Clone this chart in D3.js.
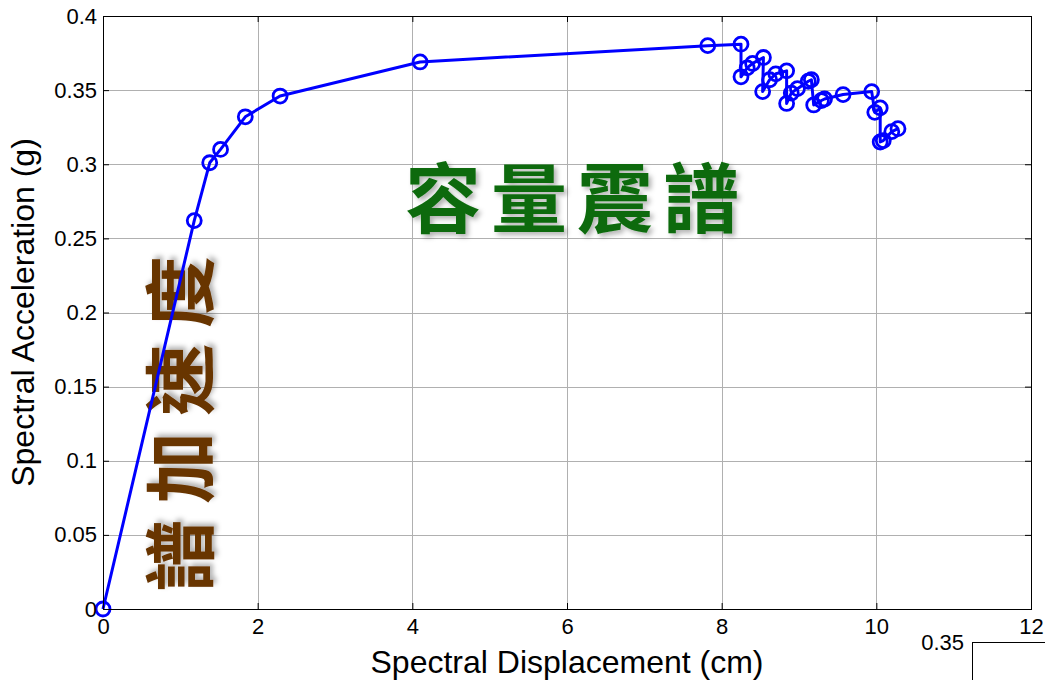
<!DOCTYPE html>
<html>
<head>
<meta charset="utf-8">
<script src="https://cdn.jsdelivr.net/npm/d3@7"></script>
<style>
  body { margin: 0; background: #fff; }
  svg { display: block; }
</style>
</head>
<body>
<svg id="chart" width="1045" height="680"></svg>
<script>
// capacity spectrum points (Sd in cm, Sa in g)
const sdValues = [0, 1.18, 1.38, 1.52, 1.84, 2.29, 4.10, 7.82, 8.25,
  8.25, 8.33, 8.40, 8.54, 8.53, 8.62, 8.70, 8.84, 8.84, 8.90, 8.98, 9.12, 9.16,
  9.19, 9.29, 9.33, 9.57, 9.94, 9.98, 10.05, 10.05, 10.09, 10.20, 10.28];
const saValues = [0, 0.262, 0.301, 0.310, 0.332, 0.346, 0.369, 0.380, 0.381,
  0.359, 0.365, 0.368, 0.372, 0.349, 0.357, 0.361, 0.363, 0.341, 0.348, 0.351, 0.356, 0.357,
  0.340, 0.343, 0.344, 0.347, 0.349, 0.335, 0.338, 0.315, 0.316, 0.322, 0.324];

const xTicks = [0, 2, 4, 6, 8, 10, 12];
const yTicks = [0, 0.05, 0.1, 0.15, 0.2, 0.25, 0.3, 0.35, 0.4];
const yTickLabels = ["0", "0.05", "0.1", "0.15", "0.2", "0.25", "0.3", "0.35", "0.4"];
const insetTicks = [0.35];

const xLabel = "Spectral Displacement (cm)";
const yLabel = "Spectral Acceleration (g)";
const titleText = "容量震譜";
const sideText = "譜加速度";

const points = sdValues.map((d, i) => ({ sd: d, sa: saValues[i] }));

const margin = { left: 103, right: 14, top: 16, bottom: 71 };
const width = 1045, height = 680;
const plotW = width - margin.left - margin.right;
const plotH = height - margin.top - margin.bottom;

const svg = d3.select("#chart");
svg.append("rect").attr("width", width).attr("height", height).attr("fill", "#fff");

const defs = svg.append("defs");
const shadow = defs.append("filter").attr("id", "shadow")
  .attr("x", "-20%").attr("y", "-20%").attr("width", "140%").attr("height", "140%");
shadow.append("feDropShadow")
  .attr("dx", 3).attr("dy", 3).attr("stdDeviation", 2.5)
  .attr("flood-color", "#000").attr("flood-opacity", 0.3);

const g = svg.append("g").attr("transform", `translate(${margin.left},${margin.top})`);

const x = d3.scaleLinear().domain([0, 12]).range([0, plotW]);
const y = d3.scaleLinear().domain([0, 0.4]).range([plotH, 0]);

// grid
g.append("g").selectAll("line").data(xTicks.slice(1, -1)).join("line")
  .attr("x1", d => Math.round(x(d)) + 0.5).attr("x2", d => Math.round(x(d)) + 0.5)
  .attr("y1", 0).attr("y2", plotH)
  .attr("stroke", "#b0b0b0").attr("stroke-width", 1);
g.append("g").selectAll("line").data(yTicks.slice(1, -1)).join("line")
  .attr("y1", d => Math.round(y(d)) + 0.5).attr("y2", d => Math.round(y(d)) + 0.5)
  .attr("x1", 0).attr("x2", plotW)
  .attr("stroke", "#b0b0b0").attr("stroke-width", 1);

// annotation texts
g.append("text")
  .attr("x", 474).attr("y", 178)
  .attr("text-anchor", "middle").attr("dominant-baseline", "central")
  .attr("font-family", "'Noto Sans CJK TC', 'Noto Sans CJK SC', sans-serif")
  .attr("font-weight", 700).attr("font-size", 76)
  .attr("letter-spacing", 10)
  .attr("fill", "#0b6a0b").attr("filter", "url(#shadow)")
  .text(titleText);

g.append("text")
  .attr("transform", `translate(72,400) rotate(-90)`)
  .attr("text-anchor", "middle").attr("dominant-baseline", "central")
  .attr("font-family", "'Noto Sans CJK TC', 'Noto Sans CJK SC', sans-serif")
  .attr("font-weight", 700).attr("font-size", 72)
  .attr("letter-spacing", 16)
  .attr("fill", "#673402").attr("filter", "url(#shadow)")
  .text(sideText);

// curve
const line = d3.line().x(d => x(d.sd)).y(d => y(d.sa));
g.append("path").datum(points)
  .attr("d", line).attr("fill", "none")
  .attr("stroke", "#0000ff").attr("stroke-width", 3).attr("stroke-linejoin", "round");
g.append("g").selectAll("circle").data(points).join("circle")
  .attr("cx", d => x(d.sd)).attr("cy", d => y(d.sa)).attr("r", 7)
  .attr("fill", "none").attr("stroke", "#0000ff").attr("stroke-width", 2.8);

// axes (MATLAB style inward ticks)
const tickFont = "'Liberation Sans', Arial, sans-serif";
const xAxis = g.append("g").attr("transform", `translate(0,${plotH})`)
  .call(d3.axisBottom(x).tickValues(xTicks).tickSize(-6).tickPadding(9).tickSizeOuter(0));
const yAxis = g.append("g")
  .call(d3.axisLeft(y).tickValues(yTicks).tickFormat((d, i) => yTickLabels[i])
    .tickSize(-6).tickPadding(6).tickSizeOuter(0));
g.append("g")
  .call(d3.axisTop(x).tickValues(xTicks).tickSize(-6).tickFormat("").tickSizeOuter(0));
g.append("g").attr("transform", `translate(${plotW},0)`)
  .call(d3.axisRight(y).tickValues(yTicks).tickSize(-6).tickFormat("").tickSizeOuter(0));

g.selectAll(".domain").remove();
g.selectAll(".tick line").attr("stroke", "#000");
[xAxis, yAxis].forEach(a => a.selectAll("text")
  .attr("font-family", tickFont).attr("font-size", 22).attr("fill", "#000"));

g.append("rect").attr("x", 0.5).attr("y", 0.5).attr("width", plotW).attr("height", plotH)
  .attr("fill", "none").attr("stroke", "#000").attr("stroke-width", 1);

// axis labels
svg.append("text")
  .attr("x", margin.left + plotW / 2).attr("y", 673)
  .attr("text-anchor", "middle")
  .attr("font-family", tickFont).attr("font-size", 32).attr("fill", "#000")
  .text(xLabel);
svg.append("text")
  .attr("transform", `translate(34,${margin.top + plotH / 2}) rotate(-90)`)
  .attr("text-anchor", "middle")
  .attr("font-family", tickFont).attr("font-size", 32).attr("fill", "#000")
  .text(yLabel);

// second axes cut off at the lower right corner
const inset = svg.append("g").attr("transform", "translate(972,642)");
const yIn = d3.scaleLinear().domain([0.3, 0.35]).range([300, 0]);
inset.call(d3.axisLeft(yIn).tickValues(insetTicks).tickFormat(d3.format(".2f"))
  .tickSize(-6).tickPadding(8).tickSizeOuter(0));
inset.select(".domain").remove();
inset.selectAll(".tick line").attr("stroke", "#000");
inset.selectAll("text").attr("font-family", tickFont).attr("font-size", 22).attr("fill", "#000");
inset.append("path").attr("d", "M0.5,60V0.5H80").attr("fill", "none").attr("stroke", "#000");
</script>
</body>
</html>
